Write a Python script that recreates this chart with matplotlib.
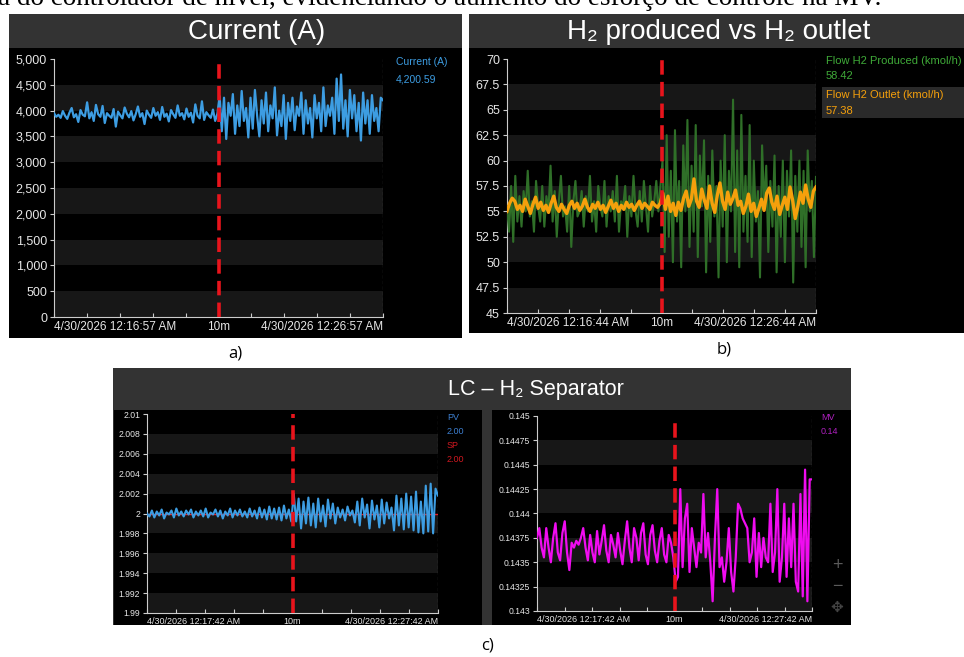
import numpy as np
import matplotlib.pyplot as plt
from matplotlib.patches import Rectangle

W, H = 964, 657

# ---- data ----
current_pre = [3950, 3880, 3920, 3860, 3990, 3900, 3840, 3960, 4050, 3870, 3930, 3780, 4010, 3920, 3890,
               4160, 3850, 3970, 3800, 4110, 3930, 3880, 4090, 3760, 3950, 3900, 3860, 4030, 3690, 3980,
               3910, 3850, 4060, 3940, 3870, 3990, 3810, 3930, 4080, 3880, 3950, 3740, 4000, 3920, 3860,
               4050, 3900, 3970, 3820, 4070, 3880, 3940, 3790, 4010, 3930, 3860, 4100, 3900, 3950, 3830,
               4040, 3880, 3960, 3770, 4120, 3900, 3850, 4180, 3820, 3970, 3910, 3860, 4020, 3800, 3940]
current_post = [4280, 3600, 4250, 3450, 4150, 3900, 4320, 3550, 4100, 3700, 4380, 3800, 4050, 3480, 4250,
                3650, 4400, 3900, 3500, 4200, 3750, 4350, 3600, 4100, 3850, 4450, 3520, 4000, 3700, 4300,
                3450, 4150, 3800, 4250, 3620, 4080, 3900, 4350, 3550, 4200, 3750, 4050, 3480, 4300, 3850,
                4150, 3600, 4450, 3700, 4100, 3900, 4250, 3550, 4620, 3800, 4700, 3650, 4200, 3500, 4400,
                3850, 4300, 3600, 4150, 3420, 4350, 3750, 4200, 3550, 4300, 3800, 4050, 3600, 4250, 4200]
current = current_pre + current_post

h2_prod = [55.5, 53.0, 57.5, 52.0, 58.5, 54.0, 56.5, 53.5, 57.0, 55.0, 59.0, 54.5, 56.0, 53.0, 58.0,
           55.5, 54.0, 57.5, 53.5, 56.5, 55.0, 59.5, 54.0, 57.0, 52.5, 56.0, 58.5, 54.5, 55.5, 53.0,
           57.5, 51.5, 56.0, 58.0, 54.5, 55.0, 57.0, 53.5, 56.5, 55.0, 58.5, 54.0, 56.0, 53.0, 57.5,
           55.5, 54.5, 58.0, 53.5, 56.5, 55.0, 57.0, 54.0, 58.5, 53.0, 56.0, 55.5, 57.5, 52.5, 56.5,
           54.5, 58.5, 55.0, 53.5, 57.0, 54.0, 58.0, 55.5, 53.0, 57.5, 54.5, 56.0, 58.0, 55.0, 57.5,
           60.0, 51.0, 62.5, 52.5, 59.0, 50.0, 63.0, 54.0, 58.0, 49.5, 61.5, 55.0, 64.0, 51.5, 59.5,
           53.0, 63.5, 50.5, 60.5, 55.5, 62.0, 49.0, 58.5, 52.0, 61.0, 54.5, 57.5, 48.5, 60.0, 53.5,
           62.5, 50.0, 59.0, 55.0, 66.0, 51.0, 61.0, 49.5, 64.5, 53.0, 58.5, 52.0, 63.5, 50.5, 60.0,
           54.0, 57.0, 48.5, 61.5, 55.5, 59.5, 51.0, 58.0, 53.5, 60.5, 49.0, 57.5, 52.5, 60.0, 50.0,
           59.0, 54.5, 61.0, 48.0, 58.5, 53.0, 60.0, 51.5, 59.0, 49.5, 61.0, 55.0, 58.0, 50.5, 58.4]
h2_out = [55.0, 55.8, 56.3, 56.0, 55.2, 55.6, 55.0, 56.2, 55.5, 54.8, 55.7, 56.4, 55.3, 55.9, 55.1,
          55.6, 54.9, 55.8, 56.5, 55.4, 55.0, 55.7, 55.2, 54.8, 55.6, 56.0, 55.3, 55.8, 55.1, 55.5,
          56.2, 55.4, 55.0, 55.7, 55.3, 55.9, 55.2, 55.6, 54.9, 55.5, 56.1, 55.3, 55.8, 55.0, 55.6,
          55.2, 55.9, 55.4, 55.7, 55.1, 55.6, 56.0, 55.3, 55.8, 55.5, 55.2, 55.9, 55.6, 55.4, 55.8,
          56.8, 55.2, 56.5, 55.0, 55.8, 54.6, 55.9, 55.1, 56.3, 57.0, 55.5, 56.2, 58.2, 56.0, 55.4,
          57.2, 56.1, 55.3, 57.5, 55.8, 54.9, 56.6, 57.8, 56.0, 55.2, 56.9, 55.7, 56.3, 57.1, 55.6,
          56.0, 54.8, 55.5, 56.7, 55.0, 55.8, 54.5, 55.3, 56.2, 55.1, 56.8, 57.3, 55.9, 55.2, 56.5,
          54.7, 55.6, 56.4, 55.2, 57.4, 56.1, 54.3, 55.5, 56.9, 55.8, 57.6, 56.2, 55.4, 57.0, 57.4]

pv = [2.0000, 1.9997, 2.0003, 1.9996, 2.0002, 1.9998, 2.0004, 1.9995, 2.0001, 1.9999, 2.0003, 1.9996,
      2.0005, 1.9998, 2.0002, 1.9997, 2.0003, 1.9999, 2.0004, 1.9996, 2.0002, 1.9998, 2.0003, 1.9997,
      2.0005, 1.9996, 2.0001, 1.9999, 2.0004, 1.9997, 2.0003, 1.9995, 2.0002, 1.9998, 2.0005, 1.9996,
      2.0003, 1.9998, 2.0004, 1.9997, 2.0002, 1.9996, 2.0005, 1.9997, 2.0003, 1.9995, 2.0006, 1.9996,
      2.0004, 1.9994, 2.0007, 1.9995, 2.0005, 1.9994, 2.0006, 1.9993, 2.0008, 1.9995, 2.0004, 1.9992,
      2.0020, 1.9992, 2.0015, 1.9985, 2.0012, 1.9990, 2.0016, 1.9988, 2.0010, 1.9986, 2.0015, 1.9992,
      2.0008, 1.9987, 2.0014, 1.9995, 2.0010, 1.9990, 2.0006, 1.9996, 2.0004, 1.9993, 2.0007, 1.9998,
      2.0003, 1.9991, 2.0012, 1.9988, 2.0015, 1.9996, 2.0009, 1.9985, 2.0013, 1.9994, 2.0008, 1.9986,
      2.0014, 1.9990, 2.0011, 1.9995, 2.0006, 1.9983, 2.0018, 1.9988, 2.0015, 1.9984, 2.0020, 1.9986,
      2.0017, 1.9983, 2.0022, 1.9981, 2.0012, 1.9980, 2.0028, 1.9982, 2.0030, 1.9980, 2.0025, 2.0018]
sp_value = 2.0

mv = [0.14375, 0.14385, 0.14365, 0.14355, 0.14385, 0.14365, 0.14350, 0.14375, 0.14390, 0.14360,
      0.14352, 0.14380, 0.14392, 0.14360, 0.14342, 0.14370, 0.14365, 0.14372, 0.14368, 0.14375,
      0.14385, 0.14365, 0.14352, 0.14378, 0.14360, 0.14350, 0.14382, 0.14358, 0.14372, 0.14388,
      0.14362, 0.14350, 0.14378, 0.14368, 0.14355, 0.14380, 0.14362, 0.14348, 0.14372, 0.14392,
      0.14365, 0.14350, 0.14385, 0.14375, 0.14352, 0.14380, 0.14390, 0.14358, 0.14348, 0.14378,
      0.14388, 0.14362, 0.14350, 0.14372, 0.14385, 0.14358, 0.14350, 0.14378, 0.14370, 0.14355,
      0.14330, 0.14335, 0.14425, 0.14345, 0.14395, 0.14410, 0.14340, 0.14385, 0.14365, 0.14345,
      0.14370, 0.14360, 0.14420, 0.14355, 0.14380, 0.14350, 0.14310, 0.14375, 0.14425, 0.14345,
      0.14355, 0.14330, 0.14350, 0.14385, 0.14340, 0.14320, 0.14355, 0.14410, 0.14405, 0.14395,
      0.14390, 0.14385, 0.14350, 0.14360, 0.14395, 0.14335, 0.14380, 0.14345, 0.14375, 0.14355,
      0.14350, 0.14410, 0.14340, 0.14360, 0.14425, 0.14330, 0.14355, 0.14410, 0.14335, 0.14395,
      0.14345, 0.14410, 0.14330, 0.14320, 0.14420, 0.14315, 0.14445, 0.14310, 0.14435, 0.14435]

ticks_a = [0, 500, 1000, 1500, 2000, 2500, 3000, 3500, 4000, 4500, 5000]
ticks_b = [45, 47.5, 50, 52.5, 55, 57.5, 60, 62.5, 65, 67.5, 70]
ticks_pv = [1.99, 1.992, 1.994, 1.996, 1.998, 2.0, 2.002, 2.004, 2.006, 2.008, 2.01]
ticks_mv = [0.143, 0.14325, 0.1435, 0.14375, 0.144, 0.14425, 0.1445, 0.14475, 0.145]
labels_a = ['0', '500', '1,000', '1,500', '2,000', '2,500', '3,000', '3,500', '4,000', '4,500', '5,000']
labels_b = ['45', '47.5', '50', '52.5', '55', '57.5', '60', '62.5', '65', '67.5', '70']
labels_pv = ['1.99', '1.992', '1.994', '1.996', '1.998', '2', '2.002', '2.004', '2.006', '2.008', '2.01']
labels_mv = ['0.143', '0.14325', '0.1435', '0.14375', '0.144', '0.14425', '0.1445', '0.14475', '0.145']
xlab_a = ['4/30/2026 12:16:57 AM', '10m', '4/30/2026 12:26:57 AM']
xlab_b = ['4/30/2026 12:16:44 AM', '10m', '4/30/2026 12:26:44 AM']
xlab_c = ['4/30/2026 12:17:42 AM', '10m', '4/30/2026 12:27:42 AM']
SPAN = 20  # minutes shown, step change at 10m

BAR = '#333333'
BAND = '#171717'
RED = '#e8141c'
plt.rcParams['font.family'] = ['Liberation Sans', 'DejaVu Sans']

fig = plt.figure(figsize=(W / 100, H / 100), dpi=100)
fig.patch.set_facecolor('white')


def rect(x, y, w, h, color, z=0):
    fig.add_artist(Rectangle((x / W, 1 - (y + h) / H), w / W, h / H, transform=fig.transFigure,
                             facecolor=color, edgecolor='none', zorder=z))


def ftext(x, y, s, **kw):
    fig.text(x / W, 1 - y / H, s, **kw)


def make_axes(x0, y0, x1, y1, ticks, labels, xlabels, fs_y, fs_x):
    ax = fig.add_axes([x0 / W, 1 - y1 / H, (x1 - x0) / W, (y1 - y0) / H])
    ax.set_facecolor('black')
    ax.set_xlim(0, SPAN)
    ax.set_ylim(ticks[0], ticks[-1])
    for i in range(0, len(ticks) - 1, 2):
        ax.axhspan(ticks[i], ticks[i + 1], color=BAND, lw=0, zorder=0)
    for s in ['top', 'right']:
        ax.spines[s].set_visible(False)
    for s in ['left', 'bottom']:
        ax.spines[s].set_color('#cccccc')
        ax.spines[s].set_linewidth(0.8)
    ax.set_yticks(ticks)
    ax.set_yticklabels(labels)
    ax.tick_params(axis='y', direction='out', length=3, color='#cccccc', labelcolor='#e6e6e6',
                   labelsize=fs_y, pad=2)
    xt = list(range(0, SPAN + 1, 2))
    ax.set_xticks(xt)
    lab = ['' for _ in xt]
    lab[0], lab[5], lab[-1] = xlabels
    ax.set_xticklabels(lab)
    ax.tick_params(axis='x', direction='in', length=3, color='#cccccc', labelcolor='#e6e6e6',
                   labelsize=fs_x, pad=3)
    tl = ax.get_xticklabels()
    tl[0].set_ha('left')
    tl[-1].set_ha('right')
    ax.axvline(SPAN, color='#999999', lw=0.8, ls=(0, (3, 2)), zorder=1)
    ax.axvline(SPAN / 2, color=RED, lw=2.6, ls=(0, (4, 2)), zorder=5)
    return ax


# ---- panel frames ----
rect(9, 14, 453, 34, BAR)
rect(9, 48, 453, 290, 'black')
rect(469, 14, 495, 34, BAR)
rect(469, 48, 495, 285, 'black')
rect(113, 368, 738, 42, BAR)
rect(113, 410, 738, 215, BAR)
rect(114, 410, 368, 215, 'black')
rect(492, 410, 359, 215, 'black')

ftext(257, 32, 'Current (A)', color='white', fontsize=20, ha='center', va='center')
ftext(719, 32, 'H₂ produced vs H₂ outlet', color='white', fontsize=20, ha='center', va='center')
ftext(536, 389, 'LC – H₂ Separator', color='white', fontsize=15.5, ha='center', va='center')

# caption fragment from the page above (cut off at the top, as in the source)
ftext(-2, 5, 'a do controlador de nível, evidenciando o aumento do esforço de controle na MV.',
      fontsize=19.5, family='Liberation Serif', ha='left', va='baseline', color='black')

# ---- a) current ----
ax_a = make_axes(54, 59, 383, 317, ticks_a, labels_a, xlab_a, 9, 8.5)
ax_a.plot(np.linspace(0, SPAN, len(current)), current, color='#3d9de2', lw=1.6, zorder=3)
ftext(396, 62, 'Current (A)', color='#3d9de2', fontsize=7.5, va='center')
ftext(396, 79, '4,200.59', color='#3d9de2', fontsize=7.5, va='center')

# ---- b) hydrogen flows ----
ax_b = make_axes(507, 59, 816, 313, ticks_b, labels_b, xlab_b, 9, 8.5)
ax_b.plot(np.linspace(0, SPAN, len(h2_prod)), h2_prod, color='#2f6f28', lw=1.5, zorder=3)
ax_b.plot(np.linspace(0, SPAN, len(h2_out)), h2_out, color='#f5a00c', lw=2.4, zorder=4)
rect(822, 87, 142, 31, '#2a2a2a', z=1)
ftext(826, 61, 'Flow H2 Produced (kmol/h)', color='#3faa38', fontsize=8, va='center')
ftext(826, 76, '58.42', color='#3faa38', fontsize=8, va='center')
ftext(826, 95, 'Flow H2 Outlet (kmol/h)', color='#f5a00c', fontsize=8, va='center')
ftext(826, 111, '57.38', color='#f5a00c', fontsize=8, va='center')

# ---- c) level controller ----
ax_pv = make_axes(147, 414, 438, 613, ticks_pv, labels_pv, xlab_c, 6.2, 6.5)
ax_pv.axhline(sp_value, color='#e8202a', lw=1.0, zorder=3)
ax_pv.plot(np.linspace(0, SPAN, len(pv)), pv, color='#3d9de2', lw=1.5, zorder=4)
ftext(447, 417, 'PV', color='#3d7fd0', fontsize=6.5, va='center')
ftext(447, 431, '2.00', color='#3d7fd0', fontsize=6.5, va='center')
ftext(447, 445, 'SP', color='#d01820', fontsize=6.5, va='center')
ftext(447, 459, '2.00', color='#d01820', fontsize=6.5, va='center')

ax_mv = make_axes(537, 416, 812, 611, ticks_mv, labels_mv, xlab_c, 6.2, 6.5)
ax_mv.plot(np.linspace(0, SPAN, len(mv)), mv, color='#f00cf0', lw=1.6, zorder=4)
ftext(821, 417, 'MV', color='#b020c0', fontsize=6.5, va='center')
ftext(821, 431, '0.14', color='#b020c0', fontsize=6.5, va='center')
ftext(837, 565, '+', color='#5a5a5a', fontsize=13, ha='center', va='center')
ftext(837, 586, '−', color='#5a5a5a', fontsize=13, ha='center', va='center')
ftext(837, 607, '✥', color='#444444', fontsize=11, ha='center', va='center', family=['DejaVu Sans'])

# white strip below panel c cuts its date labels like the screenshot
rect(100, 625, 760, 12, 'white', z=10)

ftext(235, 353, 'a)', fontsize=12, ha='center', va='center', family=['Open Sans'], zorder=11)
ftext(724, 350, 'b)', fontsize=12, ha='center', va='center', family=['Open Sans'], zorder=11)
ftext(487, 645, 'c)', fontsize=12, ha='center', va='center', family=['Open Sans'], zorder=11)

fig.savefig('out.png', dpi=100, facecolor='white')
